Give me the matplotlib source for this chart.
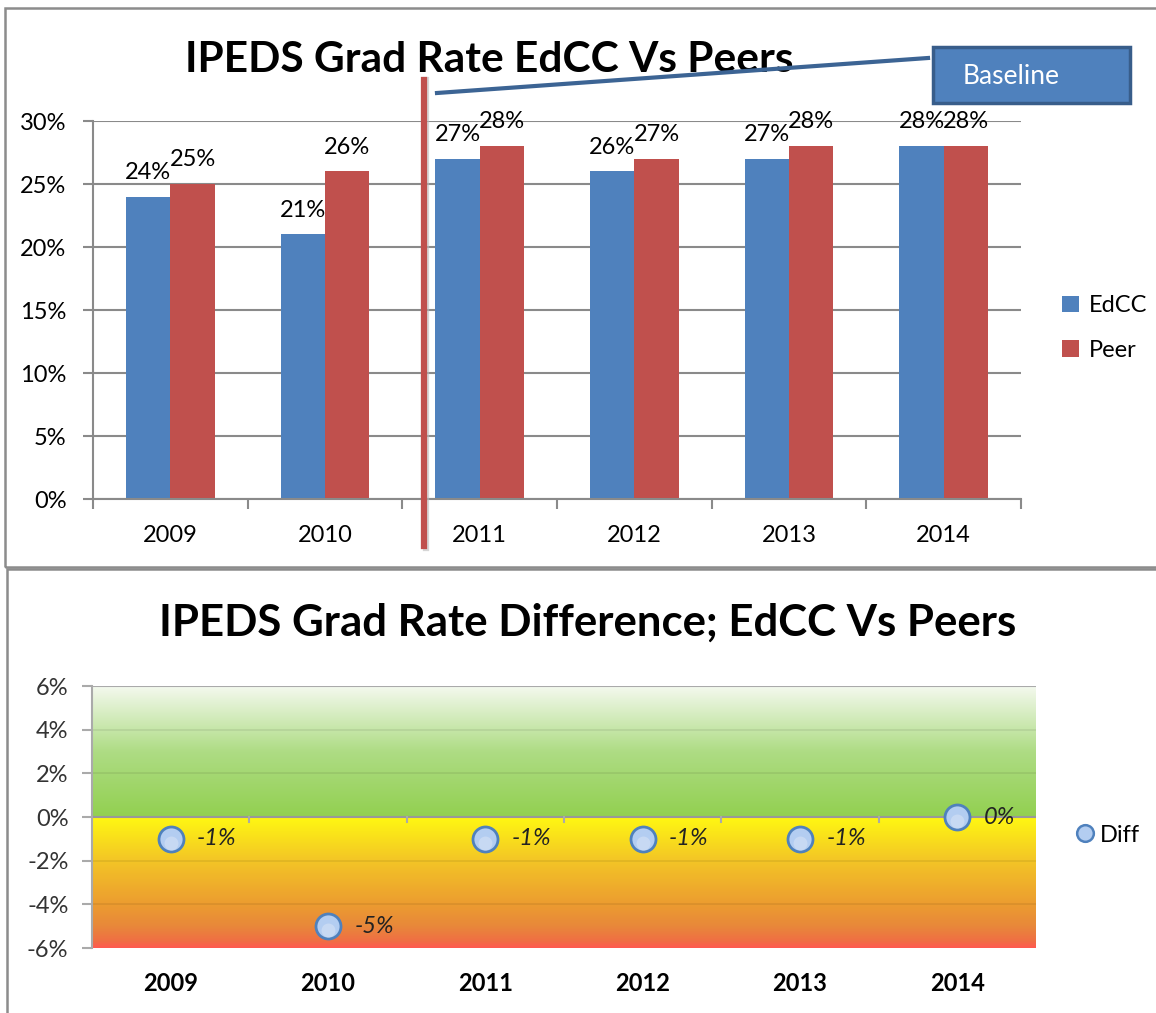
import numpy as np
import matplotlib
matplotlib.use("Agg")
import matplotlib.pyplot as plt
from matplotlib.patches import Rectangle
from matplotlib.lines import Line2D
import matplotlib.transforms as mtransforms

plt.rcParams['font.family'] = ['Lato', 'DejaVu Sans']

years = ['2009', '2010', '2011', '2012', '2013', '2014']
edcc = [24, 21, 27, 26, 27, 28]
peer = [25, 26, 28, 27, 28, 28]
diff = [-1, -5, -1, -1, -1, 0]

W, H = 1156, 1013
fig = plt.figure(figsize=(W / 100, H / 100), dpi=100)

def fx(px):
    return px / W

def fy(py):
    return 1 - py / H

fs = 17

# panel frames
fig.patches.append(Rectangle((fx(5), fy(567)), fx(1200), 559 / H, transform=fig.transFigure,
                             fill=False, edgecolor='#8c8c8c', lw=1.8, zorder=0))
fig.patches.append(Rectangle((fx(7), fy(1100)), fx(1200), 531 / H, transform=fig.transFigure,
                             fill=False, edgecolor='#8c8c8c', lw=1.8, zorder=0))

grid_col = '#8a8a8a'
blue = '#4F81BD'
red = '#C0504D'

# ---------------- top chart ----------------
ax1 = fig.add_axes([fx(93), fy(499), (1021 - 93) / W, (499 - 121) / H])
x = np.arange(len(years))
bw = 0.287
ax1.bar(x - bw / 2, edcc, bw, color=blue, zorder=2, label='EdCC')
ax1.bar(x + bw / 2, peer, bw, color=red, zorder=2, label='Peer')
for xi, v in zip(x, edcc):
    ax1.annotate(f'{v}%', (xi - bw / 2, v), xytext=(0, 10), textcoords='offset points',
                 ha='center', va='bottom', fontsize=fs)
for xi, v in zip(x, peer):
    ax1.annotate(f'{v}%', (xi + bw / 2, v), xytext=(0, 10), textcoords='offset points',
                 ha='center', va='bottom', fontsize=fs)

ax1.set_xlim(-0.5, 5.5)
ax1.set_ylim(0, 30)
ax1.set_yticks(range(0, 31, 5))
ax1.set_yticklabels([f'{v}%' for v in range(0, 31, 5)], fontsize=fs)
ax1.set_xticks(np.arange(-0.5, 6, 1))
ax1.set_xticklabels([])
ax1.set_xticks(x, minor=True)
ax1.set_xticklabels(years, minor=True, fontsize=fs)
ax1.tick_params(axis='x', which='major', length=7, color=grid_col, width=1.5)
ax1.tick_params(axis='x', which='minor', length=0, pad=19)
ax1.tick_params(axis='y', length=7, color=grid_col, width=1.5, pad=12)
ax1.yaxis.grid(True, color=grid_col, lw=1.5, zorder=0)
ax1.set_axisbelow(True)
for s in ['top', 'right']:
    ax1.spines[s].set_visible(False)
for s in ['left', 'bottom']:
    ax1.spines[s].set_color(grid_col)
    ax1.spines[s].set_linewidth(1.5)

ax1.legend(loc='center left', bbox_to_anchor=(fx(1062), fy(328)), bbox_transform=fig.transFigure,
           frameon=False, fontsize=fs, handlelength=0.7, handleheight=0.7,
           labelspacing=1.0, handletextpad=0.45, borderpad=0, borderaxespad=0)

fig.text(fx(489), fy(60), 'IPEDS Grad Rate EdCC Vs Peers', ha='center', va='center',
         fontsize=30.5, fontweight='bold')

# baseline marker line, connector and callout box
fig.lines.append(Line2D([fx(426), fx(426)], [fy(80), fy(548)], transform=fig.transFigure,
                        color='#bbbbbb', lw=4.5, alpha=0.6, zorder=5))
fig.lines.append(Line2D([fx(424), fx(424)], [fy(80), fy(546)], transform=fig.transFigure,
                        color=red, lw=4.5, zorder=6))
fig.lines.append(Line2D([fx(437), fx(928)], [fy(93), fy(58)], transform=fig.transFigure,
                        color='#3C6494', lw=3, zorder=6))
fig.patches.append(Rectangle((fx(933), fy(103)), (1130 - 933) / W, 56 / H, transform=fig.transFigure,
                             facecolor=blue, edgecolor='#385D8A', lw=2.5, zorder=6))
fig.text(fx(963), fy(77), 'Baseline', ha='left', va='center', fontsize=19, color='white', zorder=7)

# ---------------- bottom chart ----------------
ax2 = fig.add_axes([fx(92), fy(948), (1036 - 92) / W, (948 - 686) / H])
ax2.set_xlim(-0.5, 5.5)
ax2.set_ylim(-6, 6)

yy = np.linspace(6, -6, 400)
stops_y = [-6, -5.7, -5.0, -4.0, -2.0, 0, 0.0001, 3, 6]
stops_c = ['#FF5A50', '#F06E44', '#E8883A', '#EC9C30', '#F3C526', '#FFF812',
           '#92D050', '#AEDC84', '#F4F9EE']
rgb = np.array([matplotlib.colors.to_rgb(c) for c in stops_c])
img = np.stack([np.interp(yy, stops_y, rgb[:, i]) for i in range(3)], axis=-1)[:, None, :]
ax2.imshow(img, extent=[-0.5, 5.5, -6, 6], aspect='auto', zorder=0, interpolation='bilinear')

for yv in [-4, -2, 2, 4]:
    ax2.axhline(yv, color='black', alpha=0.08, lw=1.2, zorder=1)
ax2.axhline(6, color='#aaaaaa', lw=1.5, zorder=1)
ax2.axhline(0, color='#999999', lw=1.5, zorder=1)

ax2.plot(x, diff, 'o', ms=18, mfc='#B3CDF1', mec='#4F81BD', mew=2, zorder=3)
ax2.plot(x, diff, 'o', ms=10, mfc='#D6E2F6', mec='none', alpha=0.6, zorder=3,
         transform=ax2.transData + mtransforms.ScaledTranslation(0, -3 / 72, fig.dpi_scale_trans))
for xi, v in zip(x, diff):
    ax2.annotate(f'{v}%', (xi, v), xytext=(19, 0), textcoords='offset points',
                 ha='left', va='center', fontsize=fs, style='italic', color='#222222')

ax2.set_yticks(range(-6, 7, 2))
ax2.set_yticklabels([f'{v}%' for v in range(-6, 7, 2)], fontsize=fs, color='#333333')
ax2.tick_params(axis='y', length=7, color='#aaaaaa', width=1.5, pad=10)
ax2.set_xticks([])
trans = mtransforms.blended_transform_factory(ax2.transData, ax2.transAxes)
for xi, yr in zip(x, years):
    ax2.text(xi, -0.135, yr, transform=trans, ha='center', va='center', fontsize=fs, fontweight='bold')
for xb in np.arange(0.5, 5, 1):
    ax2.plot([xb, xb], [0, -0.25], color='#aaaaaa', lw=1.5, zorder=1)
for s in ['top', 'right', 'bottom']:
    ax2.spines[s].set_visible(False)
ax2.spines['left'].set_color('#aaaaaa')
ax2.spines['left'].set_linewidth(1.5)

h = Line2D([], [], marker='o', ls='none', ms=12, mfc='#B3CDF1', mec='#4F81BD', mew=1.8)
ax2.legend([h], ['Diff'], loc='center left', bbox_to_anchor=(fx(1076), fy(835)),
           bbox_transform=fig.transFigure, frameon=False, fontsize=fs,
           handlelength=0.8, handletextpad=0.2, borderpad=0, borderaxespad=0)

fig.text(fx(588), fy(623), 'IPEDS Grad Rate Difference; EdCC Vs Peers', ha='center', va='center',
         fontsize=31.5, fontweight='bold')

fig.savefig('out.png', dpi=100)
